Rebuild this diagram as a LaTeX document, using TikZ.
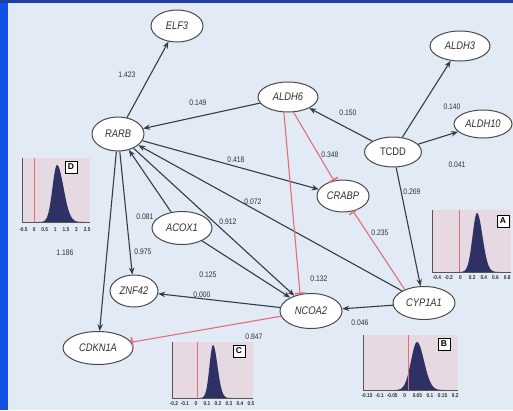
\documentclass[tikz,border=0pt]{standalone}
\usepackage{fontspec}
\setmainfont{Liberation Sans}
\newfontfamily\condf[FakeStretch=0.85]{Liberation Sans}
\usetikzlibrary{shapes.geometric,arrows.meta}
\definecolor{bgc}{HTML}{E2EBF5}
\definecolor{stripc}{HTML}{1250E6}
\definecolor{topc}{HTML}{1E3E9E}
\definecolor{nodeline}{HTML}{4A4A4A}
\definecolor{edgec}{HTML}{363B48}
\definecolor{redc}{HTML}{E36D78}
\definecolor{histbg}{HTML}{E6D9E1}
\definecolor{histdist}{HTML}{2E3163}
\definecolor{axisc}{HTML}{555555}
\definecolor{labc}{HTML}{303030}
\begin{document}
\begin{tikzpicture}[x=1pt,y=-1pt,
  declare function={gs(\t,\s)=exp(-0.5*(\t/\s)*(\t/\s));},
  gene/.style args={#1/#2}{ellipse, draw=nodeline, line width=1pt, fill=white,
    minimum width=#1pt, minimum height=#2pt, inner sep=0pt,
    font=\condf\itshape\fontsize{11}{11}\selectfont, text=labc},
  arr/.style={draw=edgec, line width=1.1pt, -{Stealth[length=7pt,width=5.5pt]}},
  inh/.style={draw=redc, line width=1.1pt, -{Bar[width=10pt,line width=1.6pt]}},
  elab/.style={font=\condf\fontsize{8}{8}\selectfont, text=labc, inner sep=0pt},
  ticklab/.style={font=\condf\bfseries\fontsize{5.6}{5.6}\selectfont, text=labc, inner sep=0pt},
  boxlab/.style={draw=black, fill=white, line width=0.9pt, minimum size=12pt,
    inner sep=0pt, font=\bfseries\fontsize{8.5}{8.5}\selectfont},
  redline/.style={draw=redc, line width=1pt},
  axisline/.style={draw=axisc, line width=0.8pt}
]
\useasboundingbox (0,0) rectangle (513,410);
% background
\fill[bgc] (0,0) rectangle (513,410);
\fill[stripc] (0,0) rectangle (8,410);
\fill[topc] (0,0) rectangle (513,3);

% ---------- histogram D ----------
\fill[histbg] (22,158) rectangle (90,222);
\fill[histdist] plot[domain=38:57,samples=30] (\x,{222-57*gs(\x-57,4.5)})
  -- plot[domain=57:84,samples=30] (\x,{222-57*gs(\x-57,6.5)}) -- cycle;
\draw[redline] (34,158) -- (34,222);
\draw[axisline] (22,158) -- (22,222) -- (90,222);
\foreach \i/\t in {0/-0.5,1/0,2/0.5,3/1,4/1.5,5/2,6/2.5}
  \node[ticklab] (dt\i) at ({23.5+\i*10.6},230) {\t};
\node[boxlab] (bD) at (71,167) {D};

% ---------- histogram A ----------
\fill[histbg] (432,210) rectangle (511,272);
\fill[histdist] plot[domain=460:477,samples=30] (\x,{272-59*gs(\x-477,4.5)})
  -- plot[domain=477:500,samples=30] (\x,{272-59*gs(\x-477,5.5)}) -- cycle;
\draw[redline] (459,210) -- (459,272);
\draw[axisline] (432,210) -- (432,272) -- (511,272);
\foreach \i/\t in {0/-0.4,1/-0.2,2/0,3/0.2,4/0.4,5/0.6,6/0.8}
  \node[ticklab] (at\i) at ({437+\i*11.7},278) {\t};
\node[boxlab] (bA) at (503,221) {A};

% ---------- histogram C ----------
\fill[histbg] (172,342) rectangle (253,398);
\fill[histdist] plot[domain=200:213,samples=30] (\x,{398-53*gs(\x-213,3.5)})
  -- plot[domain=213:232,samples=30] (\x,{398-53*gs(\x-213,4.5)}) -- cycle;
\draw[redline] (197,342) -- (197,398);
\draw[axisline] (172,342) -- (172,398) -- (253,398);
\foreach \i/\t in {0/-0.2,1/-0.1,2/0,3/0.1,4/0.2,5/0.3,6/0.4,7/0.5}
  \node[ticklab] (ct\i) at ({174+\i*11},404) {\t};
\node[boxlab] (bC) at (239,351) {C};

% ---------- histogram B ----------
\fill[histbg] (363,335) rectangle (458,390);
\fill[histdist] plot[domain=395:417,samples=30] (\x,{390-48*gs(\x-417,6)})
  -- plot[domain=417:444,samples=30] (\x,{390-48*gs(\x-417,7)}) -- cycle;
\draw[redline] (408,335) -- (408,390);
\draw[axisline] (363,335) -- (363,390) -- (458,390);
\foreach \i/\t in {0/-0.15,1/-0.1,2/-0.05,3/0,4/0.05,5/0.1,6/0.15,7/0.2}
  \node[ticklab] (btk\i) at ({367+\i*12.6},396) {\t};
\node[boxlab] (bB) at (444,344) {B};

% ---------- nodes ----------
\node[gene=52/32] (elf3) at (177,26) {ELF3};
\node[gene=60/30] (aldh3) at (460,46) {ALDH3};
\node[gene=58/28] (aldh10) at (483,124) {ALDH10};
\node[gene=60/30] (aldh6) at (288,97) {ALDH6};
\node[gene=52/34] (rarb) at (118,134) {RARB};
\node[gene=57/30, font=\condf\fontsize{11}{11}\selectfont] (tcdd) at (393,152) {TCDD};
\node[gene=52/32] (crabp) at (343,196) {CRABP};
\node[gene=60/33] (acox1) at (182,228) {ACOX1};
\node[gene=48/32] (znf42) at (134,291) {ZNF42};
\node[gene=62/33] (cyp1a1) at (424,303) {CYP1A1};
\node[gene=62/35] (ncoa2) at (311,311) {NCOA2};
\node[gene=70/33] (cdkn1a) at (98,348) {CDKN1A};

% ---------- edges ----------
\draw[arr] (rarb) -- (elf3);
\draw[arr] (aldh6) -- (rarb);
\draw[arr] (tcdd) -- (aldh6);
\draw[arr] (tcdd) -- (aldh3);
\draw[arr] (tcdd) -- (aldh10);
\draw[arr] (tcdd) -- (cyp1a1);
\draw[arr] (rarb) -- (crabp);
\draw[arr] (cyp1a1) -- (rarb);
\draw[arr] (rarb) -- (ncoa2);
\draw[arr] (acox1) -- (rarb);
\draw[arr] (acox1) -- (ncoa2);
\draw[arr] (rarb) -- (znf42);
\draw[arr] (rarb) -- (cdkn1a);
\draw[arr] (ncoa2) -- (znf42);
\draw[arr] (cyp1a1) -- (ncoa2);
\draw[inh] (aldh6.255) -- (ncoa2.123);
\draw[inh] (aldh6.290) -- (crabp);
\draw[inh] (cyp1a1.145) -- (crabp);
\draw[inh] (ncoa2) -- (cdkn1a);

% ---------- edge labels ----------
\node[elab] (l1423) at (127,75) {1.423};
\node[elab] (l0149) at (198,103) {0.149};
\node[elab] (l0150) at (348,113) {0.150};
\node[elab] (l0140) at (452,107) {0.140};
\node[elab] (l0041) at (457,165) {0.041};
\node[elab] (l0269) at (412,192) {0.269};
\node[elab] (l0348) at (330,155) {0.348};
\node[elab] (l0235) at (380,233) {0.235};
\node[elab] (l0418) at (236,160) {0.418};
\node[elab] (l0072) at (253,202) {0.072};
\node[elab] (l0912) at (228,222) {0.912};
\node[elab] (l0081) at (145,217) {0.081};
\node[elab] (l0975) at (143,252) {0.975};
\node[elab] (l0125) at (208,275) {0.125};
\node[elab] (l0000) at (202,295) {0.000};
\node[elab] (l0132) at (319,279) {0.132};
\node[elab] (l0046) at (360,323) {0.046};
\node[elab] (l0847) at (254,337) {0.847};
\node[elab] (l1186) at (65,253) {1.186};
\end{tikzpicture}
\end{document}
